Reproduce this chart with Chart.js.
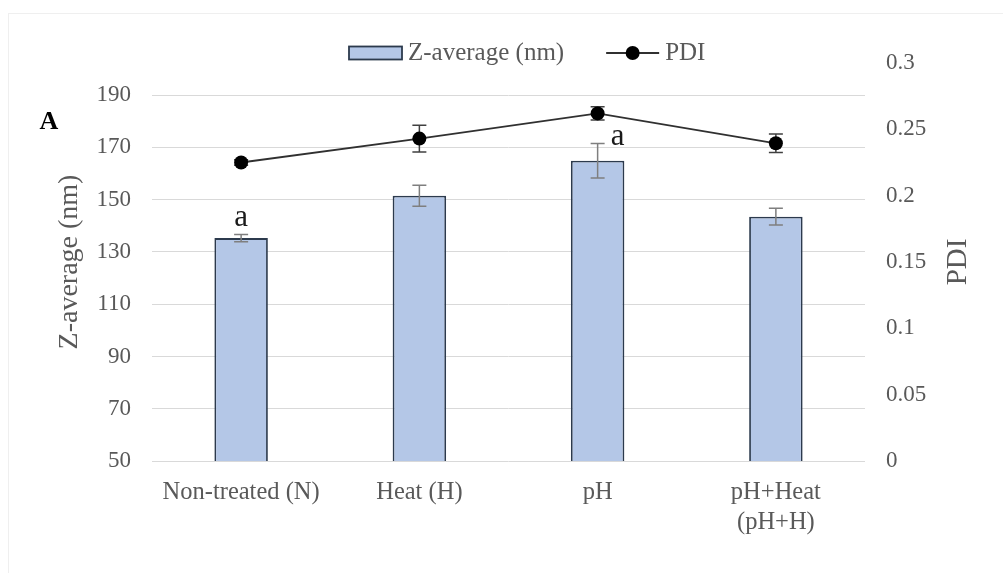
<!DOCTYPE html>
<html>
<head>
<meta charset="utf-8">
<script src="https://cdn.jsdelivr.net/npm/chart.js@4"></script>
<style>
  html, body { margin: 0; padding: 0; background: #fff; overflow: hidden; }
  #frame { position: absolute; left: 8px; top: 13px; width: 1100px; height: 700px; border: 1px solid #efefef; }
  #wrap { position: absolute; left: 0; top: 0; width: 1003px; height: 573px; }
</style>
</head>
<body>
<div id="frame"></div>
<div id="wrap"><canvas id="chart"></canvas></div>
<script>
"use strict";

const categories = [["Non-treated (N)"], ["Heat (H)"], ["pH"], ["pH+Heat", "(pH+H)"]];
const zAverage = [135.3, 151.5, 164.9, 143.5];
const zError = [1.4, 4.0, 6.6, 3.2];
const pdi = [0.225, 0.243, 0.262, 0.2395];
const pdiError = [0.002, 0.010, 0.005, 0.007];
const letters = ["a", "", "a", ""];
const zTicks = [50, 70, 90, 110, 130, 150, 170, 190];
const pdiTicks = [0, 0.05, 0.1, 0.15, 0.2, 0.25, 0.3];

const SERIF = '"Liberation Serif", "Times New Roman", serif';
const GREY = "#595959";
Chart.defaults.font.family = SERIF;
Chart.defaults.color = GREY;

function errorBars(chart, dsIndex, scaleId, values, errors, color) {
  const ctx = chart.ctx;
  const meta = chart.getDatasetMeta(dsIndex);
  const y = chart.scales[scaleId];
  ctx.save();
  ctx.strokeStyle = color;
  ctx.lineWidth = 1.5;
  meta.data.forEach((el, i) => {
    const x = el.x;
    const top = y.getPixelForValue(values[i] + errors[i]);
    const bot = y.getPixelForValue(values[i] - errors[i]);
    ctx.beginPath();
    ctx.moveTo(x, top); ctx.lineTo(x, bot);
    ctx.moveTo(x - 7, top); ctx.lineTo(x + 7, top);
    ctx.moveTo(x - 7, bot); ctx.lineTo(x + 7, bot);
    ctx.stroke();
  });
  ctx.restore();
}

const extras = {
  id: "extras",
  beforeDatasetDraw(chart, args) {
    if (args.index === 1) errorBars(chart, 1, "y1", pdi, pdiError, "#404040");
  },
  afterDatasetDraw(chart, args) {
    if (args.index === 0) errorBars(chart, 0, "y", zAverage, zError, "#7f7f7f");
  },
  afterDraw(chart) {
    const ctx = chart.ctx;
    const area = chart.chartArea;
    const ys = chart.scales.y;
    const shift = [[0, -17], [0, 0], [20, -7], [0, 0]];
    ctx.save();

    // significance letters
    ctx.fillStyle = "#1a1a1a";
    ctx.font = "31px " + SERIF;
    ctx.textAlign = "center";
    ctx.textBaseline = "middle";
    chart.getDatasetMeta(0).data.forEach((el, i) => {
      if (!letters[i]) return;
      const top = ys.getPixelForValue(zAverage[i] + zError[i]);
      ctx.fillText(letters[i], el.x + shift[i][0], top + shift[i][1]);
    });

    // panel letter
    ctx.fillStyle = "#000";
    ctx.font = "bold 26px " + SERIF;
    ctx.fillText("A", 49, 122);

    // right axis title (reads bottom to top)
    ctx.fillStyle = GREY;
    ctx.font = "29px " + SERIF;
    ctx.translate(958, (area.top + area.bottom) / 2);
    ctx.rotate(-Math.PI / 2);
    ctx.fillText("PDI", 0, 0);
    ctx.setTransform(1, 0, 0, 1, 0, 0);

    // legend
    const ly = 53;
    let lx = 349;
    const bar = chart.data.datasets[0];
    const line = chart.data.datasets[1];
    ctx.font = "25px " + SERIF;
    ctx.textAlign = "left";
    ctx.fillStyle = bar.backgroundColor;
    ctx.fillRect(lx, ly - 6.5, 53, 13);
    ctx.strokeStyle = bar.borderColor;
    ctx.lineWidth = 1.8;
    ctx.strokeRect(lx, ly - 6.5, 53, 13);
    lx += 59;
    ctx.fillStyle = GREY;
    ctx.fillText(bar.label, lx, ly);
    lx += ctx.measureText(bar.label).width + 42;
    ctx.strokeStyle = line.borderColor;
    ctx.lineWidth = 1.8;
    ctx.beginPath();
    ctx.moveTo(lx, ly); ctx.lineTo(lx + 53, ly);
    ctx.stroke();
    ctx.fillStyle = line.pointBackgroundColor;
    ctx.beginPath();
    ctx.arc(lx + 26.5, ly, 7, 0, Math.PI * 2);
    ctx.fill();
    lx += 59;
    ctx.fillStyle = GREY;
    ctx.fillText(line.label, lx, ly);
    ctx.restore();
  }
};

new Chart(document.getElementById("chart"), {
  type: "bar",
  data: {
    labels: categories,
    datasets: [
      {
        type: "bar", label: "Z-average (nm)", data: zAverage, yAxisID: "y", order: 1,
        backgroundColor: "#b4c7e7", borderColor: "#2c3a4d", borderWidth: 1.8,
        barPercentage: 0.3, categoryPercentage: 1
      },
      {
        type: "line", label: "PDI", data: pdi, yAxisID: "y1", order: 0,
        borderColor: "#303030", borderWidth: 1.8, tension: 0,
        pointRadius: 7, pointBackgroundColor: "#000", pointBorderColor: "#000", pointBorderWidth: 0
      }
    ]
  },
  options: {
    responsive: true,
    maintainAspectRatio: false,
    animation: false,
    layout: { padding: { top: 63, left: 0, right: 0, bottom: 0 } },
    plugins: { legend: { display: false }, tooltip: { enabled: false } },
    scales: {
      x: {
        grid: { display: false, drawTicks: false },
        border: { display: false },
        ticks: { padding: 16, color: GREY, font: { size: 24.5, lineHeight: 1.25 }, maxRotation: 0, autoSkip: false },
        afterFit(s) { s.height = 112; }
      },
      y: {
        position: "left", min: 50, max: 202.3,
        afterBuildTicks(s) { s.ticks = zTicks.map((v) => ({ value: v })); },
        grid: { color: "#d9d9d9", lineWidth: 1, drawTicks: false },
        border: { display: false },
        ticks: { padding: 21, color: GREY, font: { size: 23 } },
        title: { display: true, text: "Z-average (nm)", color: GREY, font: { size: 28 }, padding: { top: 53, bottom: 0 } },
        afterFit(s) { s.width = 152; }
      },
      y1: {
        position: "right", min: 0, max: 0.3,
        afterBuildTicks(s) { s.ticks = pdiTicks.map((v) => ({ value: v })); },
        grid: { display: false, drawTicks: false },
        border: { display: false },
        ticks: { padding: 21, color: GREY, font: { size: 23 }, callback: (v) => String(v) },
        afterFit(s) { s.width = 138; }
      }
    }
  },
  plugins: [extras]
});
</script>
</body>
</html>
